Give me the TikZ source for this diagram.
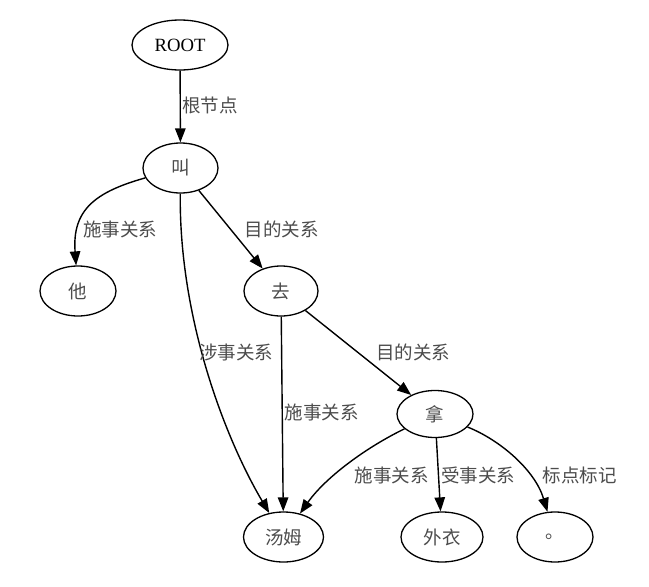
\documentclass[tikz,border=0pt]{standalone}
\usepackage{fontspec}
\setmainfont{Liberation Serif}
\newfontfamily\cjk{Noto Sans CJK SC}
\usetikzlibrary{shapes.geometric,arrows.meta}
\begin{document}
\begin{tikzpicture}[x=1pt,y=-1pt,
  nd/.style={draw,ellipse,line width=1.3pt,inner sep=0pt,minimum height=50pt,font=\fontsize{18.5}{20}\selectfont\cjk,text=black!70},
  edge/.style={draw,line width=1.4pt,-{Triangle[length=14pt,width=10.5pt]}},
  lbl/.style={font=\fontsize{18.5}{20}\selectfont\cjk,text=black!70,inner sep=0pt}]
\useasboundingbox (0,0) rectangle (649,587);
\node[nd,minimum width=96pt,font=\fontsize{18.7}{20}\selectfont,text=black] (root) at (180,45) {ROOT};
\node[nd,minimum width=75pt] (jiao) at (180.5,168) {叫};
\node[nd,minimum width=76pt] (ta) at (78,291) {他};
\node[nd,minimum width=74pt] (qu) at (281,291) {去};
\node[nd,minimum width=76pt,minimum height=47pt] (na) at (435,414) {拿};
\node[nd,minimum width=80pt] (tom) at (283.5,537) {汤姆};
\node[nd,minimum width=82pt] (coat) at (442,537) {外衣};
\node[nd,minimum width=76pt] (dot) at (555,537) {。};
\draw[edge] (root) -- (jiao);
\draw[edge] (jiao) .. controls (95,192) and (72,210) .. (ta);
\draw[edge] (jiao) -- (qu);
\draw[edge] (jiao) .. controls (179,320) and (226,440) .. (tom);
\draw[edge] (qu) -- (tom);
\draw[edge] (qu) -- (na);
\draw[edge] (na) .. controls (365,448) and (325,478) .. (tom);
\draw[edge] (na) -- (coat);
\draw[edge] (na) .. controls (500,440) and (535,470) .. (dot);
\node[lbl] (l1) at (210,105) {根节点};
\node[lbl] (l2) at (120,229) {施事关系};
\node[lbl] (l3) at (281.5,229) {目的关系};
\node[lbl] (l4) at (236,352) {涉事关系};
\node[lbl] (l5) at (321.5,412) {施事关系};
\node[lbl] (l6) at (413,352) {目的关系};
\node[lbl] (l7) at (391.5,475) {施事关系};
\node[lbl] (l8) at (478,475) {受事关系};
\node[lbl] (l9) at (579.5,475) {标点标记};
\end{tikzpicture}
\end{document}
